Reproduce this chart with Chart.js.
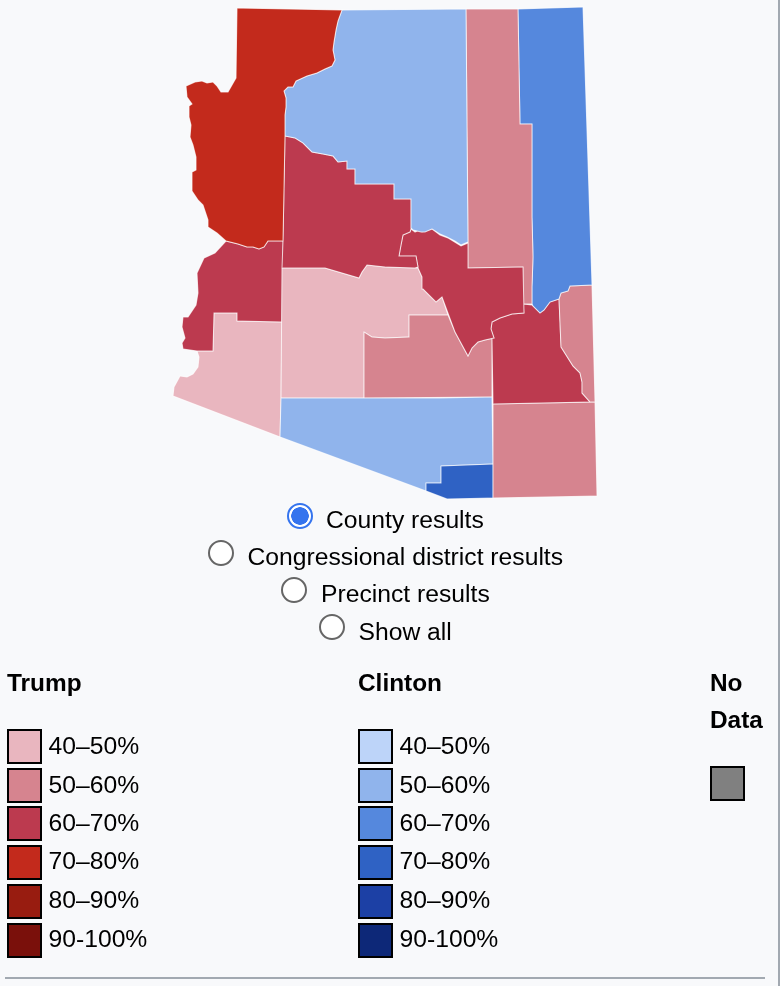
<!DOCTYPE html>
<html>
<head>
<meta charset="utf-8">
<script src="https://cdn.jsdelivr.net/npm/chart.js@4/dist/chart.umd.js"></script>
<style>
  html, body { margin: 0; padding: 0; background: #f8f9fb; overflow: hidden; }
  #page { position: relative; width: 780px; height: 986px; font-family: "Liberation Sans", Arial, sans-serif; font-size: 24.7px; color: #000; }
  #map { position: absolute; left: 0; top: 0; }
  .txt { position: absolute; line-height: 38px; white-space: nowrap; }
  .head { font-weight: bold; font-size: 24.4px; }
  .swatch { position: absolute; width: 31px; height: 31px; border: 2px solid #000; }
  .radio { position: absolute; appearance: none; -webkit-appearance: none; margin: 0; width: 26px; height: 26px; box-sizing: border-box; border-radius: 50%; border: 2px solid #666; background: #fff; }
  .radio:checked { border: 2px solid #3574ee; background: radial-gradient(circle, #3574ee 0 8.5px, #fff 9px); }
  #rule { position: absolute; left: 5px; top: 977px; width: 760px; height: 2px; background: #a2a9b1; }
  #edge { position: absolute; left: 778px; top: 0; width: 2px; height: 986px; background: #a2a9b1; }
</style>
</head>
<body>
<div id="page">
  <canvas id="map" width="780" height="986"></canvas>
  <div id="rule"></div>
  <div id="edge"></div>
</div>
<script>
// county outlines, in pixels of the source picture
const mohave = [[237,8],[342,10],[338,21],[336,30],[334,42],[333,50],[335,60],[332,66],[325,69],[317,73],[307,76],[296,81],[293,87],[288,87],[284,91],[286,98],[286,107],[285,115],[285,136],[283,241],[268,241],[264,247],[259,249],[253,247],[247,247],[238,244],[226,241],[217,233],[208,227],[208,220],[203,205],[198,200],[192,191],[192,172],[196,170],[196,157],[193,145],[190,137],[191,125],[189,117],[189,106],[192,104],[187,97],[186,86],[195,82],[202,81],[207,83],[213,82],[217,86],[221,92],[228,92],[232,85],[236,78]]
const coconino = [[342,10],[466,9],[468,242],[461,245],[455,241],[447,237],[440,234],[432,229],[425,232],[421,232],[413,230],[411,228],[411,199],[394,199],[394,184],[355,184],[355,169],[347,169],[347,161],[338,162],[333,156],[323,154],[312,152],[303,143],[295,138],[285,136],[285,115],[286,107],[286,98],[284,91],[288,87],[293,87],[296,81],[307,76],[317,73],[325,69],[332,66],[335,60],[333,50],[334,42],[336,30],[338,21]]
const yavapai = [[285,136],[295,138],[303,143],[312,152],[323,154],[333,156],[338,162],[347,161],[347,169],[355,169],[355,184],[394,184],[394,199],[411,199],[411,228],[411,229],[410,232],[403,235],[401,245],[399,256],[416,256],[418,267],[415,268],[385,267],[367,265],[362,272],[359,278],[325,268],[282,268],[283,241]]
const gila = [[403,235],[410,232],[411,229],[415,232],[420,230],[422,232],[432,229],[440,235],[448,238],[461,246],[468,243],[468,268],[523,267],[524,313],[512,314],[500,318],[492,322],[491,329],[494,338],[485,340],[478,342],[472,348],[468,356],[455,332],[442,297],[436,302],[427,293],[423,289],[422,277],[418,268],[418,267],[416,256],[399,256],[401,245]]
const navajo = [[466,9],[518,9],[520,124],[532,124],[532,136],[532,217],[533,257],[532,287],[532,304],[523,304],[523,267],[468,268],[468,242]]
const apache = [[518,9],[583,7],[592,285],[570,286],[568,291],[561,293],[559,299],[550,302],[544,310],[540,313],[533,306],[532,304],[532,287],[533,257],[532,217],[532,136],[532,124],[520,124]]
const greenlee = [[570,286],[592,285],[595,402],[590,402],[582,393],[582,382],[580,373],[573,366],[561,347],[559,299],[561,293],[568,291]]
const graham = [[523,304],[532,305],[540,313],[544,310],[550,302],[559,299],[561,347],[573,366],[580,373],[582,382],[582,393],[590,402],[493,404],[492,338],[494,338],[491,329],[492,322],[500,318],[512,314],[524,313]]
const cochise = [[493,404],[595,402],[597,496],[493,498]]
const santaCruz = [[441,466],[493,464],[493,498],[447,499],[426,491],[426,483],[441,483]]
const pima = [[281,398],[385,398],[410,398],[440,398],[492,397],[493,464],[441,466],[441,483],[426,483],[426,491],[280,437]]
const pinal = [[364,332],[372,337],[385,338],[409,337],[409,315],[448,315],[455,332],[468,356],[472,348],[478,342],[485,340],[494,338],[492,338],[492,397],[364,398]]
const maricopa = [[282,268],[325,268],[359,278],[362,272],[367,265],[385,267],[415,268],[418,268],[422,277],[423,289],[427,293],[436,302],[442,297],[448,315],[409,315],[409,337],[385,338],[372,337],[364,332],[364,398],[281,398]]
const laPaz = [[226,241],[238,244],[247,247],[253,247],[259,249],[264,247],[268,241],[283,241],[282,322],[237,321],[237,313],[214,313],[213,351],[197,351],[183,349],[182,343],[185,338],[182,327],[183,317],[188,317],[196,305],[198,293],[197,273],[204,258],[215,253]]
const yuma = [[214,313],[237,313],[237,321],[282,322],[281,398],[280,437],[173,396],[174,387],[180,376],[187,377],[193,374],[198,367],[199,357],[197,351],[213,351]]

const trumpRed = ['#e9b6bf', '#d6848f', '#bc3a4f', '#c32a1c', '#981c10', '#7a100b']
const clintonBlue = ['#bdd4f9', '#90b4ec', '#5588dd', '#2f62c4', '#1c40a5', '#0d2878']
const noDataGrey = '#808080'
const bands = ['40–50%', '50–60%', '60–70%', '70–80%', '80–90%', '90-100%']
const modes = ['County results', 'Congressional district results', 'Precinct results', 'Show all']

function county(name, outline, color) {
  return {
    label: name,
    data: outline.concat([outline[0]]).map(p => ({ x: p[0], y: p[1] })),
    showLine: true,
    fill: 'shape',
    backgroundColor: color,
    borderColor: 'rgba(255,255,255,0.75)',
    borderWidth: 1,
    pointRadius: 0,
    tension: 0,
  }
}

new Chart(document.getElementById('map').getContext('2d'), {
  type: 'scatter',
  data: {
    datasets: [
      county('Mohave', mohave, trumpRed[3]),
      county('Coconino', coconino, clintonBlue[1]),
      county('Yavapai', yavapai, trumpRed[2]),
      county('Gila', gila, trumpRed[2]),
      county('Navajo', navajo, trumpRed[1]),
      county('Apache', apache, clintonBlue[2]),
      county('Greenlee', greenlee, trumpRed[1]),
      county('Graham', graham, trumpRed[2]),
      county('Cochise', cochise, trumpRed[1]),
      county('Santa Cruz', santaCruz, clintonBlue[3]),
      county('Pima', pima, clintonBlue[1]),
      county('Pinal', pinal, trumpRed[1]),
      county('Maricopa', maricopa, trumpRed[0]),
      county('La Paz', laPaz, trumpRed[2]),
      county('Yuma', yuma, trumpRed[0]),
    ],
  },
  options: {
    animation: false,
    responsive: false,
    maintainAspectRatio: false,
    devicePixelRatio: 2,
    layout: { padding: 0 },
    plugins: { legend: { display: false }, tooltip: { enabled: false } },
    scales: {
      x: { type: 'linear', display: false, min: 0, max: 780 },
      y: { type: 'linear', display: false, min: 0, max: 986, reverse: true },
    },
  },
})

// page furniture around the map
const page = document.getElementById('page')
function addText(text, left, baseline, cls) {
  const el = document.createElement('div')
  el.className = 'txt ' + (cls || '')
  el.textContent = text
  el.style.left = left + 'px'
  el.style.top = (baseline - 27.5) + 'px'
  page.appendChild(el)
}
function addSwatch(left, top, color) {
  const el = document.createElement('div')
  el.className = 'swatch'
  el.style.left = left + 'px'
  el.style.top = top + 'px'
  el.style.background = color
  page.appendChild(el)
}
const radioX = [287, 208, 281, 319]
const radioY = [503, 540, 577, 614]
const modeX = [326, 247.5, 321, 358.5]
const modeBase = [528, 565.5, 602.5, 640]
modes.forEach((m, i) => {
  const r = document.createElement('input')
  r.type = 'radio'
  r.name = 'mode'
  r.className = 'radio'
  r.checked = i === 0
  r.style.left = radioX[i] + 'px'
  r.style.top = radioY[i] + 'px'
  page.appendChild(r)
  addText(m, modeX[i], modeBase[i])
})
addText('Trump', 7, 691, 'head')
addText('Clinton', 358, 691, 'head')
addText('No', 710, 691, 'head')
addText('Data', 710, 728, 'head')
const rowTop = [729, 768, 806, 845, 884, 923]
const rowBase = [754, 793, 831, 869, 908, 947]
bands.forEach((b, i) => {
  addSwatch(7, rowTop[i], trumpRed[i])
  addText(b, 48.5, rowBase[i])
  addSwatch(358, rowTop[i], clintonBlue[i])
  addText(b, 399.5, rowBase[i])
})
addSwatch(710, 766, noDataGrey)
</script>
</body>
</html>
